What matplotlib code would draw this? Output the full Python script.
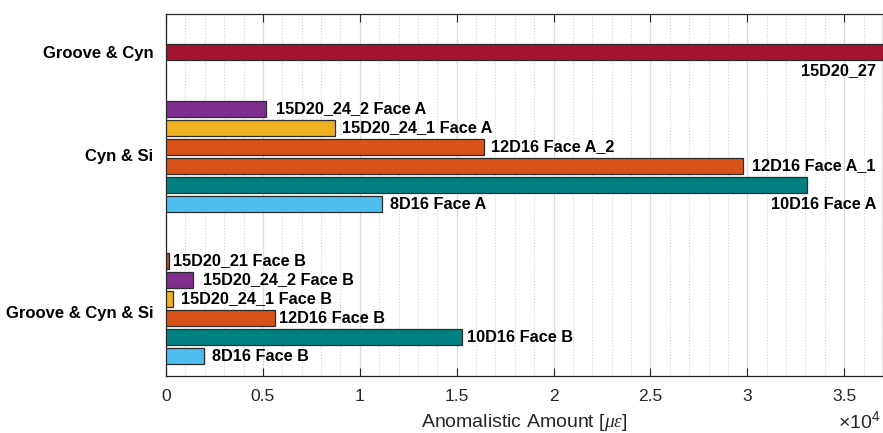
import numpy as np
import matplotlib.pyplot as plt
from matplotlib.ticker import MultipleLocator, FuncFormatter

# data (microstrain)
groups = ["Groove & Cyn", "Cyn & Si", "Groove & Cyn & Si"]

gc_labels = ["15D20_27"]
gc_values = [40000]
gc_colors = ["#A2142F"]

cs_labels = ["15D20_24_2 Face A", "15D20_24_1 Face A", "12D16 Face A_2",
             "12D16 Face A_1", "10D16 Face A", "8D16 Face A"]
cs_values = [5140, 8720, 16400, 29750, 33070, 11170]
cs_colors = ["#7E2F8E", "#EDB120", "#D95319", "#D95319", "#008080", "#4DBEEE"]

gcs_labels = ["15D20_21 Face B", "15D20_24_2 Face B", "15D20_24_1 Face B",
              "12D16 Face B", "10D16 Face B", "8D16 Face B"]
gcs_values = [130, 1380, 360, 5620, 15300, 1950]
gcs_colors = ["#A0522D", "#7E2F8E", "#EDB120", "#D95319", "#008080", "#4DBEEE"]

plt.rcParams['font.family'] = ['Liberation Sans', 'DejaVu Sans']
plt.rcParams['mathtext.fontset'] = 'custom'
plt.rcParams['mathtext.it'] = 'Liberation Serif:italic'
plt.rcParams['mathtext.rm'] = 'Liberation Sans'

fig = plt.figure(figsize=(8.83, 4.33), dpi=100)
ax = fig.add_axes([0.188, 0.1316, 0.812, 0.8361])

xmax = 37000
starts = [2, 5, 13]
all_groups = [(gc_labels, gc_values, gc_colors),
              (cs_labels, cs_values, cs_colors),
              (gcs_labels, gcs_values, gcs_colors)]
# labels that would run off the axes are put under their bar, right aligned
label_gap = {"15D20_24_2 Face A": 10, "15D20_24_1 Face A": 7, "12D16 Face A_2": 7,
             "12D16 Face A_1": 9, "8D16 Face A": 8,
             "15D20_21 Face B": 4, "15D20_24_2 Face B": 10, "15D20_24_1 Face B": 8,
             "12D16 Face B": 4, "10D16 Face B": 5, "8D16 Face B": 8}
for s, (labs, vals, cols) in zip(starts, all_groups):
    ys = s + np.arange(len(vals))
    ax.barh(ys, vals, height=0.8, color=cols, edgecolor='#2b2b2b', linewidth=0.9, zorder=3)
    for y, v, lab in zip(ys, vals, labs):
        if lab in label_gap:
            ax.annotate(lab, (v, y), xytext=(label_gap[lab] * 0.72, 0),
                        textcoords='offset points', va='center', ha='left',
                        fontsize=11.7, fontweight='bold', zorder=4)
        else:
            ax.annotate(lab, (xmax, y + 1), xytext=(-5, 0),
                        textcoords='offset points', va='center', ha='right',
                        fontsize=11.7, fontweight='bold', zorder=4)

ax.set_xlim(0, xmax)
ax.set_ylim(19.05, 0)
ax.set_yticks([2, 7.4, 15.7])
ax.set_yticklabels(groups, fontsize=12, fontweight='bold')
ax.tick_params(axis='y', length=0, pad=9)

ax.xaxis.set_major_locator(MultipleLocator(5000))
ax.xaxis.set_minor_locator(MultipleLocator(1000))
ax.xaxis.set_major_formatter(FuncFormatter(lambda v, p: f"{v / 1e4:g}"))
ax.tick_params(axis='x', which='major', direction='in', length=6, top=True,
               labelsize=12.5, colors='#262626', pad=9)
ax.tick_params(axis='x', which='minor', length=0)
fig.text(0.997, 0.012, r"$\times\mathregular{10^4}$", ha='right', va='baseline',
         fontsize=14, color='#262626')

ax.grid(axis='x', which='major', color='#dcdcdc', linewidth=0.9, zorder=0)
ax.grid(axis='x', which='minor', color='#d4d4d4', linestyle=':', linewidth=0.8, zorder=0)
ax.set_axisbelow(True)

for sp in ax.spines.values():
    sp.set_color('#262626')
    sp.set_linewidth(0.9)

ax.set_xlabel(r"Anomalistic Amount [$\mu\epsilon$]", fontsize=14, color='#262626', labelpad=6)

fig.savefig("out.png", dpi=100)
